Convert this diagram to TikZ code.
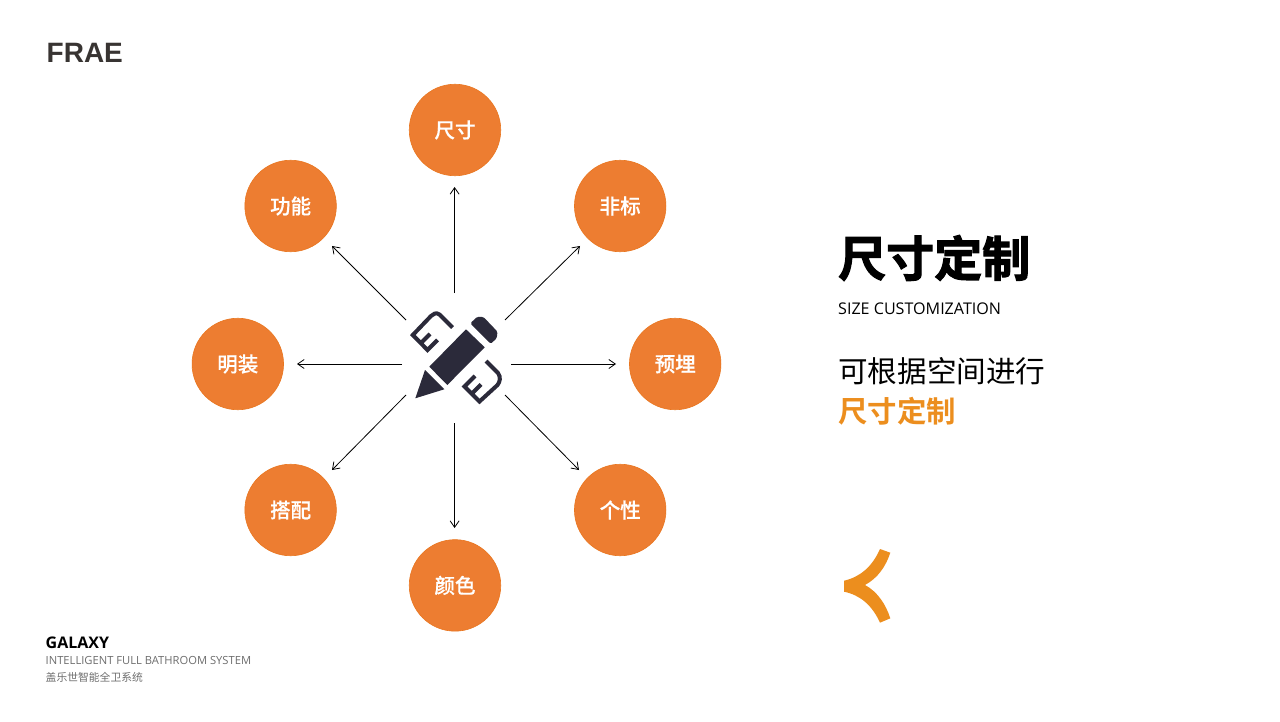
\documentclass[tikz,border=0pt]{standalone}
\usepackage{fontspec}
\setmainfont{Open Sans}
\newfontfamily\cjk{Noto Sans CJK SC}
\newfontfamily\cjkfat[FakeBold=2.2]{Noto Sans CJK SC Bold}
\newfontfamily\cjkbold{Noto Sans CJK SC Bold}
\newfontfamily\cjkmed[FakeBold=0.4]{Noto Sans CJK SC Medium}
\newfontfamily\logofont{Liberation Sans}
\definecolor{disc}{HTML}{ED7D31}
\definecolor{discedge}{HTML}{E9761F}
\definecolor{accent}{HTML}{EC8E1E}
\definecolor{ink}{HTML}{2B2A3A}
\usetikzlibrary{arrows.meta}
\tikzset{
 x=1pt,y=-1pt,
 disc/.style={circle,fill=disc,draw=discedge,line width=.6pt,minimum size=91.5pt,inner sep=0pt,text=white,font=\cjkmed\fontsize{20.5}{20.5}\selectfont},
 spoke/.style={-{Straight Barb[length=6.5pt,width=9pt,line width=.8pt]},line width=.8pt,black},
 lbl/.style={inner sep=0pt,anchor=west},
 ruler/.style={draw=ink,line width=4pt,line join=miter,fill=none},
}
\begin{document}
\begin{tikzpicture}
\useasboundingbox (0,0) rectangle (1280,722);
\fill[white] (0,0) rectangle (1280,722);
\node[lbl,font=\logofont\bfseries\fontsize{28}{28}\selectfont,text={rgb,255:red,56;green,52;blue,50}] (logo) at (46.5,53) {FRAE};
% discs
\node[disc] (top) at (455,130) {尺寸};
\node[disc] (ne) at (620.2,206) {非标};
\node[disc] (e) at (675.2,364) {预埋};
\node[disc] (se) at (620.2,510) {个性};
\node[disc] (bot) at (455,585.4) {颜色};
\node[disc] (sw) at (290.6,510) {搭配};
\node[disc] (w) at (237.8,364) {明装};
\node[disc] (nw) at (290.6,206) {功能};
% hub coordinates
\coordinate (s1) at (454.6,293); \coordinate (t1) at (454.6,187);
\coordinate (s2) at (505,320); \coordinate (t2) at (580,246);
\coordinate (s3) at (511,364); \coordinate (t3) at (616,364);
\coordinate (s4) at (505,395); \coordinate (t4) at (579,470);
\coordinate (s5) at (454.6,423); \coordinate (t5) at (454.6,528);
\coordinate (s6) at (406,395); \coordinate (t6) at (332,470);
\coordinate (s7) at (402,364); \coordinate (t7) at (297,364);
\coordinate (s8) at (406,320); \coordinate (t8) at (332,246);
\foreach \i in {1,...,8} \draw[spoke] (s\i) -- (t\i);
% icon
\fill[ink] (466,329.3) -- (484.7,347.3) -- (447.3,385) -- (429.3,366.7) -- cycle;
\fill[ink] (425,370) -- (444.3,389.3) -- (415.3,398.3) -- cycle;
\fill[ink,rounded corners=1.5pt] (470.3,323.3) -- (477.3,316.7) -- (483.5,317) -- (497.5,331.7) -- (496.7,338.3) -- (490.7,343.8) -- cycle;
\draw[ruler] (452.5,327.5) -- (439.5,314.5) .. controls (436,312) and (433,314) .. (431,316) -- (412.8,335) -- (427.5,350) -- (437.5,340) (420.5,343.5) -- (430,334);
\draw[ruler] (486,361) -- (498,373) .. controls (501,377) and (500,382) .. (497.5,385) -- (479.5,401.5) -- (464.5,386.5) -- (475,376) (471.5,394) -- (481,384.5);
% texts
\node[lbl,font=\cjkfat\fontsize{48}{48}\selectfont,text=black] (title) at (838,258) {尺寸定制};
\node[lbl,font=\fontsize{16.1}{16}\selectfont,text=black] (sub) at (838,308.5) {SIZE CUSTOMIZATION};
\node[lbl,font=\cjk\fontsize{29.6}{30}\selectfont,text=black] (l1) at (838,371) {可根据空间进行};
\node[lbl,font=\cjkbold\fontsize{29.4}{30}\selectfont,text=accent] (l2) at (838,411) {尺寸定制};
\fill[accent] (880,549) -- (890.3,552.7) .. controls (886,566) and (878,578) .. (865,585) .. controls (878,592) and (886,605) .. (890.3,618.3) -- (880,622.7) .. controls (872,605) and (860,595) .. (844,591.7) -- (844,580.7) .. controls (860,577) and (872,567) .. (880,549) -- cycle;
\node[lbl,font=\bfseries\fontsize{16}{16}\selectfont,text=black] (gal) at (45.5,642.5) {GALAXY};
\node[lbl,font=\fontsize{11.2}{11}\selectfont,text={rgb,255:red,110;green,110;blue,110}] (en) at (45.5,660) {INTELLIGENT FULL BATHROOM SYSTEM};
\node[lbl,font=\cjk\fontsize{10.8}{11}\selectfont,text={rgb,255:red,110;green,110;blue,110}] (cn) at (45.5,677) {盖乐世智能全卫系统};
\end{tikzpicture}
\end{document}
